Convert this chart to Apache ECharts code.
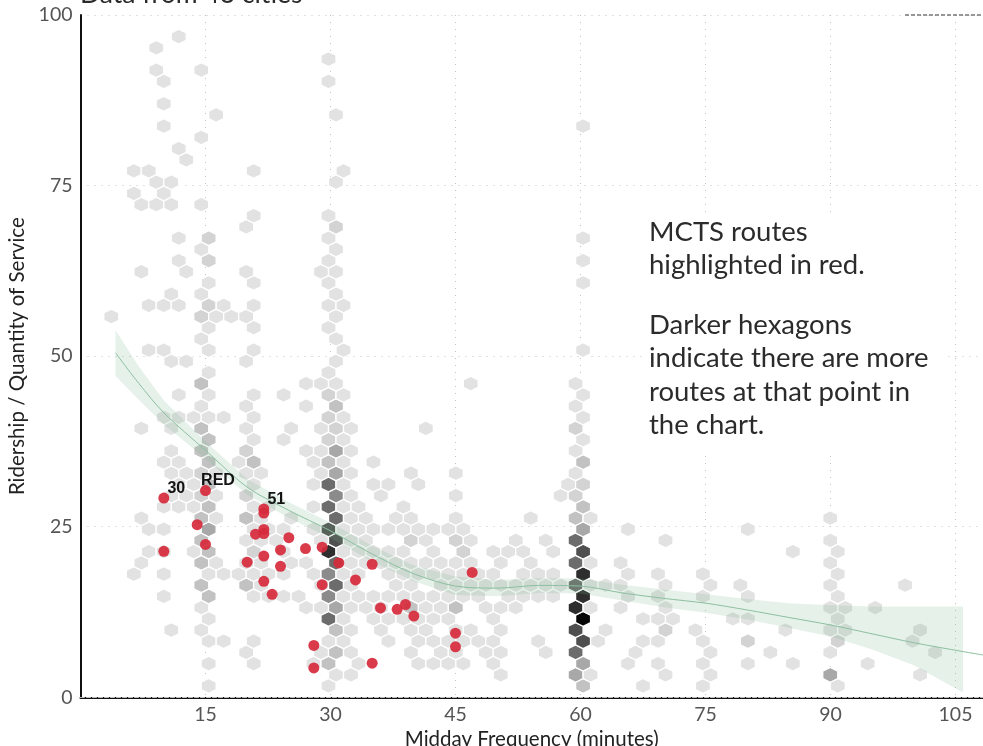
<!DOCTYPE html>
<html><head><meta charset="utf-8">
<script src="https://cdn.jsdelivr.net/npm/echarts@6/dist/echarts.min.js"></script>
<style>html,body{margin:0;padding:0;background:#fff}#c{width:983px;height:746px}</style>
</head><body><div id="c"></div><script>
// ---------- DATA ----------
const xTicks = [15, 30, 45, 60, 75, 90, 105];
const yTicks = [0, 25, 50, 75, 100];

// hex bins: [rowY, [[binX, count], ...]]
const hexRows = [
 [1.66, [[15.38,1],[29.76,1],[60.31,3],[67.50,1],[74.69,1],[90.87,1]]],
 [3.30, [[30.66,1],[32.46,1],[50.43,1],[59.41,4],[61.21,1],[70.20,1],[75.59,1],[89.97,4],[100.75,1]]],
 [4.94, [[15.38,1],[20.78,1],[27.96,1],[29.76,3],[33.36,1],[40.54,1],[42.34,1],[44.14,1],[45.94,1],[49.53,1],[60.31,4],[65.70,1],[69.30,1],[74.69,1],[80.08,1],[85.48,1],[94.46,1]]],
 [6.58, [[19.88,1],[28.86,1],[30.66,3],[32.46,1],[39.65,1],[43.24,1],[45.04,1],[48.63,1],[50.43,1],[55.82,1],[59.41,6],[66.60,1],[75.59,1],[82.78,1],[89.97,1],[102.55,1]]],
 [8.22, [[15.38,1],[17.18,1],[20.78,1],[29.76,1],[31.56,1],[36.95,1],[40.54,1],[42.34,1],[44.14,1],[45.94,1],[47.73,1],[49.53,1],[54.92,1],[60.31,7],[62.11,1],[67.50,1],[69.30,1],[74.69,1],[80.08,2],[90.87,2],[99.85,1]]],
 [9.86, [[10.89,1],[14.49,1],[30.66,3],[32.46,1],[36.05,1],[39.65,1],[41.44,1],[45.04,1],[46.83,1],[50.43,1],[59.41,7],[63.01,1],[70.20,2],[73.79,1],[84.58,1],[89.97,1],[91.77,1],[100.75,1]]],
 [11.50, [[15.38,1],[29.76,6],[31.56,1],[35.15,1],[36.95,1],[38.75,1],[40.54,1],[42.34,1],[44.14,1],[49.53,1],[60.31,9],[67.50,1],[69.30,1],[71.10,1],[78.29,1],[80.08,1],[90.87,1]]],
 [13.14, [[14.49,1],[27.07,1],[28.86,1],[30.66,4],[32.46,1],[34.25,1],[36.05,1],[39.65,3],[41.44,1],[43.24,1],[45.04,3],[48.63,1],[50.43,1],[52.23,1],[59.41,8],[61.21,1],[64.81,1],[70.20,1],[89.97,1],[91.77,1],[95.36,1]]],
 [14.78, [[9.99,1],[15.38,3],[20.78,1],[22.57,1],[24.37,1],[26.17,1],[29.76,5],[31.56,1],[33.36,1],[35.15,1],[36.95,1],[38.75,1],[40.54,1],[42.34,1],[44.14,1],[45.94,1],[47.73,1],[51.33,1],[53.12,1],[54.92,1],[56.72,1],[60.31,8],[65.70,1],[69.30,1],[74.69,1],[80.08,1],[90.87,1]]],
 [16.43, [[14.49,3],[19.88,3],[21.67,1],[28.86,1],[30.66,6],[32.46,1],[37.85,1],[39.65,1],[43.24,1],[45.04,1],[46.83,1],[48.63,1],[50.43,1],[52.23,1],[54.02,1],[55.82,1],[57.62,1],[59.41,6],[61.21,1],[63.01,1],[64.81,1],[70.20,1],[75.59,1],[79.18,1],[89.97,1],[98.95,1]]],
 [18.07, [[6.40,1],[9.99,1],[15.38,1],[17.18,1],[18.98,1],[20.78,1],[22.57,1],[24.37,1],[27.96,1],[29.76,5],[31.56,1],[33.36,1],[36.95,1],[38.75,1],[40.54,1],[42.34,1],[44.14,1],[45.94,1],[47.73,1],[49.53,1],[53.12,1],[54.92,1],[56.72,1],[60.31,8],[65.70,1],[69.30,1],[74.69,1],[90.87,1]]],
 [19.71, [[7.30,1],[14.49,3],[16.28,1],[19.88,1],[21.67,1],[25.27,1],[27.07,1],[30.66,6],[32.46,1],[34.25,1],[36.05,1],[37.85,1],[39.65,1],[41.44,1],[43.24,1],[45.04,1],[46.83,1],[50.43,1],[54.02,1],[59.41,6],[61.21,1],[64.81,1],[89.97,1]]],
 [21.35, [[8.19,1],[9.99,1],[13.59,1],[15.38,3],[20.78,2],[24.37,1],[29.76,8],[31.56,1],[33.36,1],[35.15,1],[36.95,1],[38.75,1],[42.34,1],[45.94,2],[49.53,1],[51.33,1],[53.12,1],[56.72,1],[60.31,7],[85.48,1],[90.87,1]]],
 [22.99, [[14.49,3],[19.88,1],[21.67,1],[23.47,1],[28.86,1],[30.66,7],[32.46,1],[34.25,1],[39.65,2],[41.44,1],[45.04,2],[46.83,1],[52.23,1],[55.82,1],[59.41,6],[70.20,1],[89.97,1]]],
 [24.63, [[8.19,1],[9.99,1],[15.38,4],[20.78,1],[22.57,1],[24.37,1],[27.96,1],[29.76,7],[31.56,1],[33.36,1],[35.15,1],[36.95,1],[38.75,1],[40.54,1],[42.34,1],[44.14,1],[45.94,1],[60.31,4],[65.70,1],[80.08,1]]],
 [26.27, [[7.30,1],[14.49,3],[16.28,1],[19.88,3],[21.67,1],[25.27,1],[30.66,6],[32.46,1],[34.25,1],[37.85,1],[39.65,1],[45.04,1],[54.02,1],[59.41,3],[61.21,1],[89.97,1]]],
 [27.91, [[9.99,1],[11.79,1],[13.59,1],[15.38,3],[20.78,1],[22.57,1],[27.96,1],[29.76,6],[31.56,1],[33.36,1],[38.75,1],[60.31,3]]],
 [29.55, [[10.89,1],[12.69,1],[14.49,2],[16.28,1],[19.88,2],[30.66,5],[32.46,1],[36.05,1],[45.04,1],[57.62,1],[59.41,2]]],
 [31.19, [[11.79,1],[13.59,1],[15.38,3],[20.78,1],[27.96,1],[29.76,6],[31.56,1],[35.15,1],[36.95,1],[40.54,1],[58.51,1],[60.31,2]]],
 [32.84, [[10.89,1],[12.69,1],[14.49,2],[16.28,1],[19.88,1],[21.67,1],[28.86,1],[30.66,4],[32.46,1],[39.65,1],[45.04,1],[59.41,1]]],
 [34.48, [[9.99,1],[11.79,1],[15.38,3],[18.98,1],[20.78,3],[27.96,1],[29.76,3],[31.56,1],[35.15,1],[60.31,3]]],
 [36.12, [[10.89,1],[14.49,3],[19.88,2],[27.07,1],[28.86,1],[30.66,4],[32.46,1],[59.41,1]]],
 [37.76, [[15.38,3],[20.78,1],[24.37,1],[29.76,2],[31.56,1],[60.31,1]]],
 [39.40, [[7.30,1],[10.89,1],[14.49,3],[19.88,1],[25.27,1],[28.86,1],[30.66,2],[32.46,1],[41.44,1],[59.41,2]]],
 [41.04, [[9.99,1],[11.79,1],[13.59,1],[15.38,1],[17.18,1],[20.78,1],[29.76,2],[31.56,1],[60.31,1]]],
 [42.68, [[14.49,1],[19.88,1],[27.07,1],[30.66,3],[59.41,1]]],
 [44.32, [[11.79,1],[15.38,1],[20.78,1],[24.37,1],[29.76,2],[31.56,1],[60.31,1]]],
 [45.96, [[14.49,3],[27.07,1],[28.86,1],[30.66,1],[46.83,1],[59.41,1]]],
 [47.60, [[15.38,1],[29.76,1]]],
 [49.25, [[10.89,1],[12.69,1],[19.88,1],[30.66,1]]],
 [50.89, [[8.19,1],[9.99,1],[15.38,1],[20.78,1],[31.56,1],[60.31,1]]],
 [52.53, [[14.49,1],[30.66,1]]],
 [54.17, [[15.38,1],[20.78,1],[29.76,1]]],
 [55.81, [[3.70,1],[14.49,2],[16.28,1],[18.08,1],[19.88,1],[30.66,1]]],
 [57.45, [[8.19,1],[9.99,1],[11.79,1],[15.38,2],[17.18,1],[20.78,1],[29.76,1],[31.56,1]]],
 [59.09, [[10.89,1],[14.49,1],[30.66,1]]],
 [60.73, [[15.38,1],[20.78,1],[29.76,1],[60.31,1]]],
 [62.37, [[7.30,1],[12.69,1],[19.88,1],[28.86,1],[30.66,1]]],
 [64.01, [[11.79,1],[15.38,2],[29.76,1],[60.31,1]]],
 [65.66, [[14.49,1],[30.66,1]]],
 [67.30, [[11.79,1],[15.38,2],[29.76,1],[60.31,1]]],
 [68.94, [[19.88,1],[30.66,2]]],
 [70.58, [[20.78,1],[29.76,1]]],
 [72.22, [[7.30,1],[9.09,1],[10.89,1],[14.49,1]]],
 [73.86, [[6.40,1],[9.99,1]]],
 [75.50, [[9.09,1],[10.89,1],[30.66,1]]],
 [77.14, [[6.40,1],[8.19,1],[20.78,1],[31.56,1]]],
 [78.78, [[12.69,1]]],
 [80.42, [[11.79,1]]],
 [82.06, [[14.49,1]]],
 [83.71, [[9.99,1],[60.31,1]]],
 [85.35, [[16.28,1],[30.66,1]]],
 [86.99, [[9.99,1]]],
 [90.27, [[9.99,1],[29.76,1]]],
 [91.91, [[9.09,1],[14.49,1]]],
 [93.55, [[29.76,1]]],
 [95.19, [[9.09,1]]],
 [96.83, [[11.79,1]]]
];

// smoothed trend with confidence band
const smoothX  = [4.2, 7, 10, 15, 20, 25, 30, 35, 40, 45, 50, 55, 60, 65, 70, 75, 80, 85, 90, 95, 100, 105.9];
const smoothY  = [50.5, 46.0, 41.7, 36.2, 30.8, 27.4, 24.4, 21.0, 18.1, 16.3, 16.0, 16.4, 16.3, 15.3, 14.5, 13.8, 12.8, 11.7, 10.6, 9.3, 8.0, 6.7];
const smoothLo = [47.1, 43.6, 40.0, 35.0, 29.7, 26.3, 23.3, 19.9, 17.0, 15.0, 14.8, 15.3, 15.2, 14.2, 13.2, 12.4, 11.4, 10.2, 8.9, 7.0, 4.7, 0.7];
const smoothHi = [53.8, 48.5, 43.5, 37.5, 32.0, 28.6, 25.6, 22.2, 19.3, 17.7, 17.2, 17.5, 17.4, 16.5, 15.8, 15.1, 14.4, 13.8, 13.5, 13.3, 13.3, 13.3];
const smoothEndX = 108.3, smoothEndY = 6.2;

// MCTS routes
const mctsX = [10, 15, 22, 22, 14, 15, 10, 22, 22, 21, 25, 24, 22, 20, 24, 22, 23, 27, 29, 31, 29, 33, 35, 28, 28, 35, 36, 38, 39, 40, 45, 45, 47];
const mctsY = [29.2, 30.3, 27.6, 27.0, 25.3, 22.4, 21.4, 24.6, 24.0, 23.9, 23.4, 21.6, 20.7, 19.8, 19.2, 17.0, 15.1, 21.8, 22.0, 19.7, 16.5, 17.2, 19.5, 7.6, 4.3, 5.0, 13.1, 12.9, 13.6, 11.9, 9.4, 7.4, 18.3];
const mctsLabel = ['30', 'RED', '51'];

// ---------- CHART ----------
const shades = ['#e2e2e2','#d3d3d3','#c2c2c2','#a8a8a8','#8b8b8b','#6c6c6c','#4f4f4f','#2e2e2e','#060606'];
const HEX_HALF_W = 0.8986, HEX_ROW = 1.641;

const hexData = [];
hexRows.forEach(r => r[1].forEach(c => hexData.push([c[0], r[0], c[1]])));

const mctsData = mctsX.map((x, i) => {
  const d = { value: [x, mctsY[i]] };
  if (mctsLabel[i]) d.label = { show: true, formatter: mctsLabel[i] };
  return d;
});

const chart = echarts.init(document.getElementById('c'), null, { renderer: 'canvas' });
const FONT = 'Lato, "Open Sans", sans-serif';

chart.setOption({
  animation: false,
  backgroundColor: '#fff',
  grid: { left: 80.5, right: 0, top: 15, bottom: 48.7, containLabel: false, outerBoundsMode: 'none' },
  xAxis: [{
    type: 'value', min: 0, max: 108.3, interval: 15,
    axisLine: { show: true, onZero: false, lineStyle: { color: '#111', width: 2 } },
    axisTick: { show: false },
    axisLabel: { color: '#555', fontSize: 19.5, fontFamily: FONT, margin: 7,
      formatter: v => xTicks.includes(v) ? String(v) : '' },
    splitLine: { show: true, lineStyle: { color: '#c2c2c2', type: [1, 6], width: 1 } },
    name: 'Midday Frequency (minutes)', nameLocation: 'middle', nameGap: 29,
    nameTextStyle: { color: '#222', fontSize: 20.5, fontFamily: FONT }
  }, {
    type: 'value', position: 'top', min: 0, max: 108.3,
    axisLine: { show: true, lineStyle: { color: '#bdbdbd', type: [4, 2], width: 1 } },
    axisTick: { show: false }, axisLabel: { show: false }, splitLine: { show: false }
  }],
  yAxis: {
    type: 'value', min: 0, max: 100, interval: 25,
    axisLine: { show: true, onZero: false, lineStyle: { color: '#111', width: 2 } },
    axisTick: { show: false },
    axisLabel: { color: '#555', fontSize: 19.5, fontFamily: FONT, margin: 8,
      formatter: v => yTicks.includes(v) ? String(v) : '' },
    splitLine: { show: true, lineStyle: { color: '#c2c2c2', type: [1, 6], width: 1 } },
    name: 'Ridership / Quantity of Service', nameLocation: 'middle', nameGap: 48, nameRotate: 90,
    nameTextStyle: { color: '#222', fontSize: 20.5, fontFamily: FONT }
  },
  series: [
    {
      type: 'custom', name: 'hex', z: 2,
      data: hexData,
      encode: { x: 0, y: 1 },
      renderItem: (params, api) => {
        const c = api.coord([api.value(0), api.value(1)]);
        const s = api.size([HEX_HALF_W, HEX_ROW]);
        const w = s[0], R = s[1] / 1.5;
        const n = Math.max(1, Math.min(9, Math.round(api.value(2))));
        return {
          type: 'polygon',
          shape: { points: [[c[0], c[1] - R], [c[0] + w, c[1] - R / 2], [c[0] + w, c[1] + R / 2],
                            [c[0], c[1] + R], [c[0] - w, c[1] + R / 2], [c[0] - w, c[1] - R / 2]] },
          style: { fill: shades[n - 1], stroke: '#ffffff', lineWidth: 1.3 }
        };
      }
    },
    {
      type: 'custom', name: 'band', z: 3, silent: true,
      data: [[smoothX[0], smoothY[0]]],
      encode: { x: 0, y: 1 },
      renderItem: (params, api) => {
        const pts = [];
        for (let i = 0; i < smoothX.length; i++) pts.push(api.coord([smoothX[i], smoothHi[i]]));
        for (let i = smoothX.length - 1; i >= 0; i--) pts.push(api.coord([smoothX[i], smoothLo[i]]));
        return { type: 'polygon', shape: { points: pts },
                 style: { fill: 'rgba(120,180,145,0.19)' } };
      }
    },
    {
      type: 'line', name: 'trend', z: 4, silent: true,
      data: smoothX.map((x, i) => [x, smoothY[i]]).concat([[smoothEndX, smoothEndY]]),
      showSymbol: false, smooth: 0.3,
      lineStyle: { color: '#8cbf9f', width: 1 }
    },
    {
      type: 'scatter', name: 'MCTS', z: 5,
      data: mctsData,
      symbolSize: 11,
      itemStyle: { color: '#d62a3c', opacity: 0.92 },
      label: { show: false, position: [18, -4], align: 'center', verticalAlign: 'middle',
               color: '#000', fontSize: 16, fontWeight: 'bold', fontFamily: '"Liberation Sans", Arial, sans-serif' }
    }
  ],
  graphic: [
    { type: 'text', x: 80, y: -5.5, z: 100,
      style: { text: 'Data from 43 cities', fontSize: 26.5, fontFamily: FONT, fill: '#2a2a2a', verticalAlign: 'middle' } },
    { type: 'line', z: 100, shape: { x1: 905, y1: 15, x2: 983, y2: 15 },
      style: { stroke: '#777', lineWidth: 1.3, lineDash: [4, 2] } },
    { type: 'rect', z: 50, shape: { x: 643, y: 218, width: 302, height: 237 }, style: { fill: '#fff' } },
    { type: 'text', x: 649, y: 232.5, z: 100, style: { text: 'MCTS routes', fontSize: 27.5, fontFamily: FONT, fill: '#2b2b2b', verticalAlign: 'middle' } },
    { type: 'text', x: 649, y: 265.5, z: 100, style: { text: 'highlighted in red.', fontSize: 27.5, fontFamily: FONT, fill: '#2b2b2b', verticalAlign: 'middle' } },
    { type: 'text', x: 649, y: 325, z: 100, style: { text: 'Darker hexagons', fontSize: 27.5, fontFamily: FONT, fill: '#2b2b2b', verticalAlign: 'middle' } },
    { type: 'text', x: 649, y: 358.5, z: 100, style: { text: 'indicate there are more', fontSize: 27.5, fontFamily: FONT, fill: '#2b2b2b', verticalAlign: 'middle' } },
    { type: 'text', x: 649, y: 392, z: 100, style: { text: 'routes at that point in', fontSize: 27.5, fontFamily: FONT, fill: '#2b2b2b', verticalAlign: 'middle' } },
    { type: 'text', x: 649, y: 425.5, z: 100, style: { text: 'the chart.', fontSize: 27.5, fontFamily: FONT, fill: '#2b2b2b', verticalAlign: 'middle' } }
  ]
});
</script></body></html>
